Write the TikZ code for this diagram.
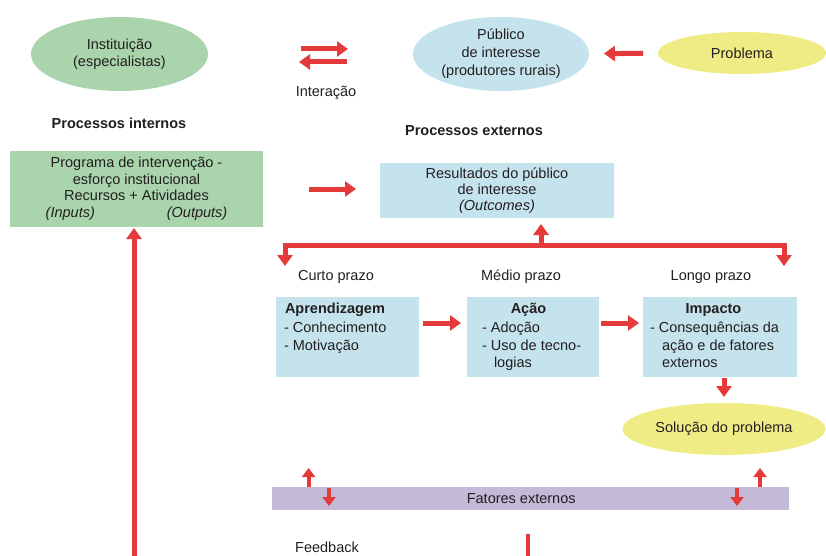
\documentclass[tikz,border=0pt]{standalone}
\usepackage{fontspec}
\setmainfont{Liberation Sans}
\usetikzlibrary{arrows.meta,shapes.geometric}
\definecolor{cgreen}{HTML}{A9D4AC}
\definecolor{cblue}{HTML}{C5E3ED}
\definecolor{cyellow}{HTML}{F0EC85}
\definecolor{cviolet}{HTML}{C4B9D6}
\definecolor{cred}{HTML}{E53A3A}
\definecolor{ctext}{HTML}{231F20}
\begin{document}
\begin{tikzpicture}[x=1pt,y=-1pt,
  every node/.style={font=\fontsize{14.5}{17}\selectfont, text=ctext, inner sep=0pt, outer sep=0pt},
  ell/.style={ellipse, align=center},
  fbox/.style={rectangle, align=center},
  bigarrow/.style={draw=cred, line width=5pt, -{Triangle[width=15pt,length=11pt]}},
  smallarrow/.style={draw=cred, line width=4pt, -{Triangle[width=13pt,length=9pt]}},
  redline/.style={draw=cred, line width=4.5pt},
  ttl/.style={font=\fontsize{14.5}{17}\selectfont\bfseries},
  lst/.style={align=left, anchor=north west, font=\fontsize{14.5}{17.5}\selectfont}]
\useasboundingbox (0,0) rectangle (826,556);
\fill[white] (0,0) rectangle (826,556);

% top row
\node[ell, fill=cgreen, minimum width=177pt, minimum height=74pt] (inst) at (119.5,54) {Instituição\\(especialistas)};
\node[ell, fill=cblue, minimum width=176pt, minimum height=74pt, font=\fontsize{14.5}{18}\selectfont] (pub) at (501,54) {Público\\de interesse\\(produtores rurais)};
\node[ell, fill=cyellow, minimum width=168pt, minimum height=42pt] (prob) at (742,53) {Problema};
\node (inter) at (326,93) {Interação};
\node[ttl] (pint) at (119,123) {Processos internos};
\node[ttl] (pext) at (474,131) {Processos externos};

% program and results
\node[fbox, fill=cgreen, minimum width=253pt, minimum height=76pt, font=\fontsize{14.5}{16.5}\selectfont] (prog) at (136.5,189)
  {Programa de intervenção -\\esforço institucional\\Recursos + Atividades\\\textit{(Inputs)}\hspace{72pt}\textit{(Outputs)}};
\node[fbox, fill=cblue, minimum width=234pt, minimum height=55pt, font=\fontsize{14.5}{16}\selectfont] (res) at (497,190.5)
  {Resultados do público\\de interesse\\\textit{(Outcomes)}};

% terms
\node (curto) at (336,277) {Curto prazo};
\node (medio) at (521,277) {Médio prazo};
\node (longo) at (711,277) {Longo prazo};

% three boxes
\node[fill=cblue, minimum width=143pt, minimum height=80pt] (aprend) at (347.5,337) {};
\node[fill=cblue, minimum width=132pt, minimum height=80pt] (acao) at (533,337) {};
\node[fill=cblue, minimum width=154pt, minimum height=80pt] (impacto) at (720,337) {};
\node[ttl, anchor=base west] (aprendt) at (285,313.5) {Aprendizagem};
\node[ttl, anchor=base] (acaot) at (528.5,313.5) {Ação};
\node[ttl, anchor=base] (impactot) at (713.5,313.5) {Impacto};
\node[lst] (aprendl) at (284,322) {- Conhecimento\\- Motivação};
\node[lst] (acaol) at (482,322) {- Adoção\\- Uso de tecno-\\\hspace*{12pt}logias};
\node[lst] (impactol) at (650,322) {- Consequências da\\\hspace*{12pt}ação e de fatores\\\hspace*{12pt}externos};

\node[ell, fill=cyellow, minimum width=203pt, minimum height=52pt] (sol) at (724,429) {Solução do problema};

% external factors
\node[fill=cviolet, minimum width=517pt, minimum height=23pt] (fat) at (530.2,498.5) {Fatores externos\hspace*{18pt}};
\node (feed) at (327,547) {Feedback};

% coordinates for free ends
\coordinate (ia1) at (301,49);
\coordinate (ia2) at (348,49);
\coordinate (ib1) at (347,62);
\coordinate (ib2) at (299,62);
\coordinate (hb) at (541,245);
\coordinate (bl) at (285,245);
\coordinate (br) at (784,245);
\coordinate (bld) at (285,266);
\coordinate (brd) at (784,266);
\coordinate (fu1) at (308.6,487);
\coordinate (fu1t) at (308.6,468);
\coordinate (fd1) at (329,488);
\coordinate (fd1t) at (329,506);
\coordinate (fu2) at (760,487);
\coordinate (fu2t) at (760,468);
\coordinate (fd2) at (737,488);
\coordinate (fd2t) at (737,506);
\coordinate (fbl) at (134,560);
\coordinate (fbr) at (528,534);
\coordinate (fbr2) at (528,560);

% connectors
\draw[bigarrow] (ia1) -- (ia2);
\draw[bigarrow] (ib1) -- (ib2);
\draw[bigarrow, shorten <=15pt, shorten >=15pt] (prob) -- (pub);
\draw[bigarrow, shorten <=46pt, shorten >=24pt] (prog.east) -- (prog.east -| res.west);
\draw[bigarrow, shorten >=6pt] (hb) -- (hb |- res.south);
\draw[draw=cred, line width=5pt, line join=miter, {Triangle[width=15pt,length=11pt]}-{Triangle[width=15pt,length=11pt]}] (bld) -- (bl) -- (br) -- (brd);
\draw[bigarrow, shorten <=4pt, shorten >=6pt] ([yshift=14pt]aprend.east) -- ([yshift=14pt]acao.west);
\draw[bigarrow, shorten <=2pt, shorten >=4pt] ([yshift=14pt]acao.east) -- ([yshift=14pt]impacto.west);
\draw[bigarrow, shorten <=1pt, shorten >=6pt] (impacto.south -| sol.north) -- (sol.north);
\draw[smallarrow] (fu1) -- (fu1t);
\draw[smallarrow] (fd1) -- (fd1t);
\draw[smallarrow] (fu2) -- (fu2t);
\draw[smallarrow] (fd2) -- (fd2t);
\draw[bigarrow, shorten >=1pt] (fbl) -- (fbl |- prog.south);
\draw[redline] (fbr) -- (fbr2);
\end{tikzpicture}
\end{document}
